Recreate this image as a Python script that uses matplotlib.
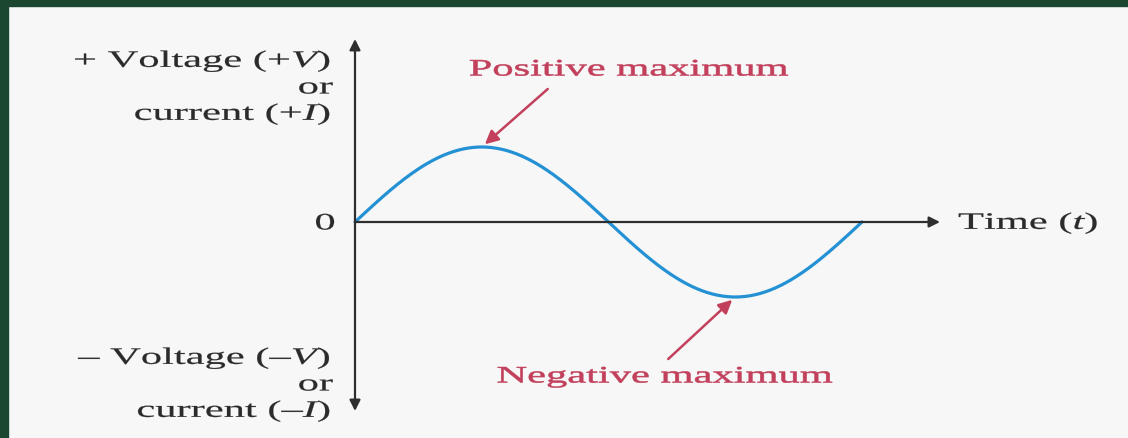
import numpy as np
import matplotlib
matplotlib.use('Agg')
import matplotlib.pyplot as plt
from matplotlib.patches import Rectangle
from matplotlib.patheffects import AbstractPathEffect
from matplotlib.transforms import Affine2D

plt.rcParams['font.family'] = ['Liberation Serif', 'DejaVu Serif']
plt.rcParams['mathtext.fontset'] = 'custom'
plt.rcParams['mathtext.rm'] = 'Liberation Serif'
plt.rcParams['mathtext.it'] = 'Liberation Serif:italic'

# one cycle of the waveform, time in periods
cycles = 1.0
amplitude = 1.0
peak_t, peak_v = 0.25, 1.0
trough_t, trough_v = 0.75, -1.0

# text
y_pos_labels = ['+ Voltage (+$V$)', 'or', 'current (+$I$)']
y_neg_labels = ['– Voltage (–$V$)', 'or', 'current (–$I$)']
x_label = 'Time ($t$)'
zero_label = '0'
pos_note = 'Positive maximum'
neg_note = 'Negative maximum'

W, H = 1128, 439
bg = '#f7f7f7'
border = '#1b4630'
wave_c = '#2391d4'
note_c = '#c2405c'
axis_c = '#2e2e2e'
text_c = '#2b2b2b'


class Widen(AbstractPathEffect):
    """Draw text glyphs stretched horizontally about a fixed x (pixels), with a light outline."""

    def __init__(self, x_px, factor, stroke=0.0):
        super().__init__()
        self.x_px = x_px
        self.factor = factor
        self.stroke = stroke

    def draw_path(self, renderer, gc, tpath, affine, rgbFace=None):
        stretch = Affine2D().translate(-self.x_px, 0).scale(self.factor, 1).translate(self.x_px, 0)
        gc0 = renderer.new_gc()
        gc0.copy_properties(gc)
        gc0.set_linewidth(self.stroke)
        if rgbFace is not None:
            gc0.set_foreground(rgbFace)
        renderer.draw_path(gc0, tpath, affine + stretch, rgbFace)
        gc0.restore()


fig = plt.figure(figsize=(W / 100, H / 100), dpi=100)
fig.patch.set_facecolor(bg)
# dark frame on top and left
fig.patches.append(Rectangle((0, 1 - 7 / H), 1, 7 / H, transform=fig.transFigure,
                             color=border, zorder=0))
fig.patches.append(Rectangle((0, 0), 8 / W, 1, transform=fig.transFigure,
                             color=border, zorder=0))

# axes spanning the figure; origin at pixel (355, 223), 507 px per period, 75 px per unit
x0, y0, sx, sy = 355, 223, 507, 75
ax = fig.add_axes([0, 0, 1, 1])
ax.set_xlim(-x0 / sx, (W - x0) / sx)
ax.set_ylim(-(H - y0) / sy, y0 / sy)
ax.axis('off')
ax.patch.set_alpha(0)

fs = 17
wide = 1.8


def label(x, y, s, ha, color=text_c, stroke=0.15):
    fig.text(x / W, 1 - y / H, s, ha=ha, va='center', fontsize=fs, color=color,
             path_effects=[Widen(x, wide, stroke)])


t = np.linspace(0, cycles, 400)
v = amplitude * np.sin(2 * np.pi * t)
ax.plot(t, v, color=wave_c, lw=2.3, solid_capstyle='round', zorder=3)

# axes arrows
ax.annotate('', xy=(0, (y0 - 40) / sy), xytext=(0, -(412 - y0) / sy),
            arrowprops=dict(arrowstyle='<|-|>', color=axis_c, lw=1.6,
                            mutation_scale=16, shrinkA=0, shrinkB=0))
ax.annotate('', xy=((940 - x0) / sx, 0), xytext=(0, 0),
            arrowprops=dict(arrowstyle='-|>', color=axis_c, lw=1.6,
                            mutation_scale=16, shrinkA=0, shrinkB=0))

for lab, y in zip(y_pos_labels, [62, 89, 115]):
    label(333, y, lab, 'right')
for lab, y in zip(y_neg_labels, [359, 386, 412]):
    label(333, y, lab, 'right')
label(325, 225, zero_label, 'center')
label(958, 224, x_label, 'left')

# peak notes
label(629, 71, pos_note, 'center', note_c, 0.4)
label(665, 378, neg_note, 'center', note_c, 0.4)
ax.annotate('', xy=(peak_t, peak_v), xytext=(66, 58), textcoords='offset pixels',
            arrowprops=dict(arrowstyle='-|>', color=note_c, lw=1.8,
                            mutation_scale=20, shrinkA=0, shrinkB=3))
ax.annotate('', xy=(trough_t, trough_v), xytext=(-67, -62), textcoords='offset pixels',
            arrowprops=dict(arrowstyle='-|>', color=note_c, lw=1.8,
                            mutation_scale=20, shrinkA=0, shrinkB=3))

fig.savefig('out.png', dpi=100, facecolor=fig.get_facecolor())
